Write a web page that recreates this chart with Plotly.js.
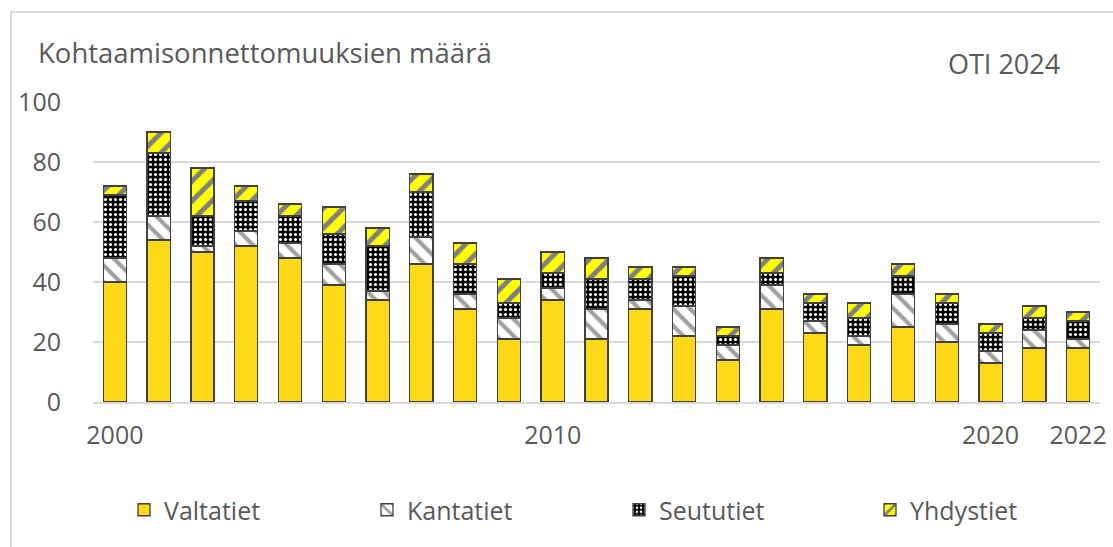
<!DOCTYPE html>
<html>
<head>
<meta charset="utf-8">
<script src="https://cdn.plot.ly/plotly-3.0.1.min.js"></script>
<style>
  html, body { margin: 0; padding: 0; background: #ffffff; overflow: hidden; }
  #frame { position: absolute; left: 10px; top: 11px; width: 1300px; height: 700px; border: 2px solid #d9d9d9; box-sizing: border-box; }
  #chart { position: absolute; left: 0; top: 0; width: 1113px; height: 547px; }
</style>
</head>
<body>
<div id="frame"></div>
<div id="chart"></div>
<script>
const years = [2000,2001,2002,2003,2004,2005,2006,2007,2008,2009,2010,2011,2012,2013,2014,2015,2016,2017,2018,2019,2020,2021,2022];
const valtatiet  = [40,54,50,52,48,39,34,46,31,21,34,21,31,22,14,31,23,19,25,20,13,18,18];
const kantatiet  = [ 8, 8, 2, 5, 5, 7, 3, 9, 5, 7, 4,10, 3,10, 5, 8, 4, 3,11, 6, 4, 6, 3];
const seututiet  = [21,21,10,10, 9,10,15,15,10, 5, 5,10, 7,10, 3, 4, 6, 6, 6, 7, 6, 4, 6];
const yhdystiet  = [ 3, 7,16, 5, 4, 9, 6, 6, 7, 8, 7, 7, 4, 3, 3, 5, 3, 5, 4, 3, 3, 4, 3];
const seriesNames = ["Valtatiet","Kantatiet","Seututiet","Yhdystiet"];
const xTickVals = [2000,2010,2020,2022];
const xTickText = ["2000","2010","2020","2022"];
const chartTitle = "Kohtaamisonnettomuuksien määrä";
const sourceText = "OTI 2024";

const textColor = "#595959";
const lineStyle = {color: "#404040", width: 1.3};

const traces = [
  {x: years, y: valtatiet, name: seriesNames[0], type: "bar", legend: "legend",
   marker: {color: "#FDD917", line: lineStyle}},
  {x: years, y: kantatiet, name: seriesNames[1], type: "bar", legend: "legend2",
   marker: {color: "#ffffff", line: lineStyle,
     pattern: {shape: "\\", fgcolor: "#a0a0a0", bgcolor: "#ffffff", size: 12, solidity: 0.35}}},
  {x: years, y: seututiet, name: seriesNames[2], type: "bar", legend: "legend3",
   marker: {color: "#000000", line: lineStyle,
     pattern: {shape: ".", fgcolor: "#ffffff", bgcolor: "#000000", size: 5, solidity: 0.3}}},
  {x: years, y: yhdystiet, name: seriesNames[3], type: "bar", legend: "legend4",
   marker: {color: "#FFFF00", line: lineStyle,
     pattern: {shape: "/", fgcolor: "#7f7f7f", bgcolor: "#FFFF00", size: 14, solidity: 0.35}}}
];

function legendAt(px) {
  return {orientation: "h", x: (px-93)/1007, xanchor: "left", y: -0.36, yanchor: "middle",
          font: {size: 25, color: textColor}, bgcolor: "rgba(0,0,0,0)"};
}

const layout = {
  width: 1113, height: 547,
  barmode: "stack",
  bargap: 0.47,
  paper_bgcolor: "rgba(0,0,0,0)",
  plot_bgcolor: "rgba(0,0,0,0)",
  font: {family: "Open Sans, Noto Sans, sans-serif", color: textColor, size: 24},
  margin: {l: 93, r: 13, t: 102, b: 145},
  title: {text: chartTitle, x: 38/1113, xanchor: "left", xref: "container",
          y: 1 - 53/547, yanchor: "middle", yref: "container",
          font: {size: 27.5, color: textColor}},
  xaxis: {range: [1999.5, 2022.5], tickvals: xTickVals, ticktext: xTickText,
          showgrid: false, zeroline: false, showline: true, linecolor: "#d9d9d9", linewidth: 2,
          ticks: "outside", ticklen: 10, tickcolor: "rgba(0,0,0,0)",
          tickfont: {size: 25, color: textColor}, fixedrange: true},
  yaxis: {range: [0, 100], dtick: 20, showgrid: true, gridcolor: "#d9d9d9", gridwidth: 2,
          zeroline: false, showline: false,
          ticks: "outside", ticklen: 26, tickcolor: "rgba(0,0,0,0)",
          tickfont: {size: 25, color: textColor}},
  legend: legendAt(124),
  legend2: legendAt(367),
  legend3: legendAt(619),
  legend4: legendAt(870),
  annotations: [
    {text: sourceText, xref: "paper", yref: "paper", x: (1062-93)/1007, y: (402-63)/300,
     xanchor: "right", yanchor: "middle", showarrow: false, font: {size: 27, color: textColor}}
  ],
  showlegend: true
};

Plotly.newPlot("chart", traces, layout, {displayModeBar: false, staticPlot: true});
</script>
</body>
</html>
